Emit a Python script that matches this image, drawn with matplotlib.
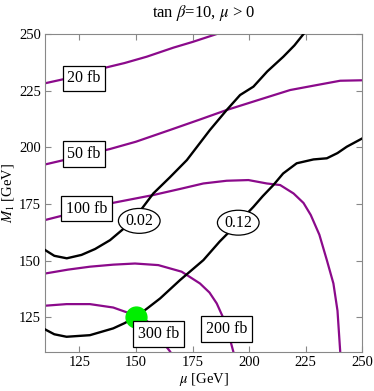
import numpy as np
import matplotlib
matplotlib.use('Agg')
import matplotlib.pyplot as plt

plt.rcParams['font.family'] = ['Liberation Serif', 'DejaVu Serif']
plt.rcParams['mathtext.fontset'] = 'stix'

# cross-section contours (purple)
mu_20 = [110, 120, 134.2, 145, 154.8, 166.6, 175, 185.7]
m1_20 = [228.3, 230.5, 234.6, 237.2, 240.0, 244.0, 246.5, 250.0]

mu_50 = [110, 125, 138.6, 150, 165.1, 178, 190.1, 205, 218.1, 229.9, 240.2, 250]
m1_50 = [192.5, 196.0, 199.3, 202.5, 207.7, 212.2, 216.5, 221.2, 225.3, 227.5, 229.4, 229.6]

mu_100 = [110, 125, 138.6, 157.7, 170, 179.8, 190.1, 199.7, 207.8, 213.7, 219.6, 224, 227.2, 231, 234.3, 237.2, 239, 240.2]
m1_100 = [168.0, 171.8, 175.3, 179.0, 181.8, 184.1, 185.3, 185.6, 184.1, 183.4, 179.7, 175.5, 170.2, 161.5, 150.3, 140.0, 128, 110.0]

mu_200 = [110, 120, 129.7, 140, 149.6, 159.9, 170.2, 178.3, 182.5, 185.7, 188.5, 190.1, 193.0]
m1_200 = [144.4, 146.1, 147.4, 148.3, 148.8, 148.1, 145.2, 140.0, 136.0, 131.2, 125.0, 120.9, 110.0]

mu_300 = [110, 119.4, 129.7, 140.0, 149.6, 155.0, 160.6, 165.1]
m1_300 = [130.2, 130.9, 130.9, 129.4, 126.0, 123.4, 115.8, 110.0]

# relic density contours (black)
mu_002 = [110, 114, 119.5, 126, 132, 138.6, 145, 151.5, 157.7, 165, 172.5, 182.7, 190.1, 196.0, 201.9, 208, 215.1, 220, 224.0]
m1_002 = [154.7, 152.2, 151.1, 152.6, 155.2, 159.1, 164.5, 171.5, 179.7, 186.8, 194.4, 207.7, 216.5, 223.1, 226.8, 233.5, 240.0, 245.0, 250.0]

mu_012 = [110, 114, 119.4, 129.7, 140.0, 145, 150.1, 155, 160.7, 169.5, 179.8, 187, 195.2, 201.9, 206, 210.7, 215, 221.0, 228.4, 234.3, 239, 243.1, 250]
m1_012 = [119.7, 117.6, 116.5, 117.2, 120.2, 122.5, 125.3, 129.0, 133.4, 141.5, 150.3, 158.5, 166.8, 173.8, 178.5, 183.4, 188.5, 193.0, 194.7, 195.2, 197.5, 200.3, 204.0]

purple_curves = [(mu_20, m1_20), (mu_50, m1_50), (mu_100, m1_100), (mu_200, m1_200), (mu_300, m1_300)]
box_labels = ['20 fb', '50 fb', '100 fb', '200 fb', '300 fb']
box_mu = [127.1, 127.1, 128.2, 190.0, 160.0]
box_m1 = [230.4, 197.0, 173.0, 119.8, 117.8]

oval_labels = ['0.02', '0.12']
oval_mu = [151.5, 195.2]
oval_m1 = [167.6, 166.8]

point_mu, point_m1 = 150, 125.3

purple = '#8B0A8B'

fig = plt.figure(figsize=(3.74, 3.91), dpi=100)
ax = fig.add_axes([0.121, 0.101, 0.848, 0.812])

for x, y in purple_curves:
    ax.plot(x, y, color=purple, linewidth=1.6, zorder=2)
ax.plot(mu_002, m1_002, color='black', linewidth=1.7, zorder=3)
ax.plot(mu_012, m1_012, color='black', linewidth=1.7, zorder=3)

ax.plot(point_mu, point_m1, 'o', color='#00EE00', markersize=15, zorder=5)

for lab, x, y in zip(box_labels, box_mu, box_m1):
    ax.text(x, y, lab, ha='center', va='center', fontsize=11.5, zorder=6,
            bbox=dict(boxstyle='square,pad=0.3', facecolor='white', edgecolor='black', linewidth=0.9))
for lab, x, y in zip(oval_labels, oval_mu, oval_m1):
    ax.text(x, y, lab, ha='center', va='center', fontsize=11.5, zorder=6,
            bbox=dict(boxstyle='ellipse,pad=0.05', facecolor='white', edgecolor='black', linewidth=0.9))

ax.set_xlim(110, 250)
ax.set_ylim(110, 250)
ax.set_xticks([125, 150, 175, 200, 225, 250])
ax.set_yticks([125, 150, 175, 200, 225, 250])
ax.tick_params(direction='in', top=True, right=True, labelsize=10.5, length=4, color='#888888', pad=3)
for s in ax.spines.values():
    s.set_color('#888888')
    s.set_linewidth(0.8)

ax.set_xlabel(r'$\mu$ [GeV]', fontsize=10.5, labelpad=2)
ax.set_ylabel(r'$M_1$ [GeV]', fontsize=10.5, labelpad=2)
ax.set_title(r'tan $\beta$=10, $\mu$ > 0', fontsize=12, pad=12)

fig.savefig('out.png', dpi=100)
